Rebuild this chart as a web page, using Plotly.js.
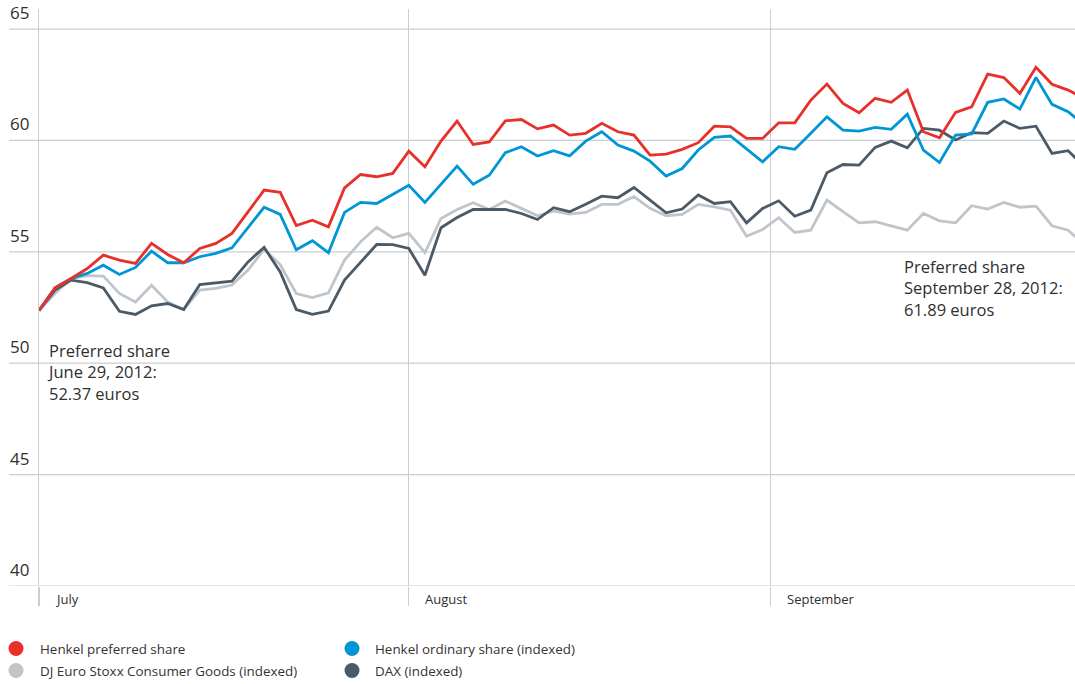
<!DOCTYPE html>
<html>
<head>
<meta charset="utf-8">
<script src="https://cdn.plot.ly/plotly-3.0.1.min.js"></script>
<style>
  html, body { margin: 0; padding: 0; background: #fff; }
  #chart { width: 1075px; height: 684px; }
</style>
</head>
<body>
<div id="chart"></div>
<script>
// ---- Data (trading days, 29 June 2012 – 28 September 2012) ----
const seriesNames = [
  "Henkel preferred share",
  "Henkel ordinary share (indexed)",
  "DJ Euro Stoxx Consumer Goods (indexed)",
  "DAX (indexed)"
];

const henkelPreferred = [
  52.37, 53.38, 53.80, 54.25, 54.85, 54.63, 54.48, 55.38, 54.88, 54.51,
  55.15, 55.38, 55.83, 56.80, 57.77, 57.67, 56.18, 56.42, 56.12, 57.87,
  58.47, 58.37, 58.52, 59.52, 58.82, 59.97, 60.87, 59.82, 59.93, 60.88,
  60.94, 60.52, 60.69, 60.24, 60.32, 60.77, 60.39, 60.24, 59.34, 59.39,
  59.60, 59.90, 60.64, 60.61, 60.09, 60.09, 60.79, 60.79, 61.81, 62.53,
  61.66, 61.24, 61.89, 61.71, 62.26, 60.39, 60.12, 61.26, 61.51, 62.98,
  62.82, 62.11, 63.28, 62.52, 62.26, 61.89
];

const henkelOrdinary = [
  52.37, 53.38, 53.80, 54.03, 54.40, 53.98, 54.30, 55.03, 54.51, 54.51,
  54.78, 54.93, 55.18, 56.10, 57.00, 56.68, 55.09, 55.50, 54.96, 56.77,
  57.22, 57.17, 57.58, 57.99, 57.22, 58.04, 58.85, 58.03, 58.44, 59.45,
  59.72, 59.30, 59.54, 59.31, 59.97, 60.39, 59.79, 59.52, 59.07, 58.40,
  58.74, 59.57, 60.14, 60.20, 59.60, 59.04, 59.72, 59.60, 60.32, 61.06,
  60.46, 60.42, 60.59, 60.50, 61.18, 59.57, 59.01, 60.24, 60.29, 61.71,
  61.86, 61.41, 62.83, 61.62, 61.29, 60.69
];

const djEuroStoxx = [
  52.37, 53.13, 53.80, 53.93, 53.91, 53.13, 52.75, 53.50, 52.75, 52.41,
  53.28, 53.36, 53.51, 54.18, 55.11, 54.43, 53.13, 52.95, 53.16, 54.63,
  55.45, 56.10, 55.63, 55.83, 54.96, 56.50, 56.90, 57.20, 56.90, 57.28,
  56.95, 56.62, 56.84, 56.69, 56.77, 57.13, 57.13, 57.48, 56.95, 56.62,
  56.68, 57.13, 57.02, 56.87, 55.70, 56.00, 56.53, 55.87, 55.97, 57.32,
  56.80, 56.30, 56.35, 56.15, 55.97, 56.72, 56.39, 56.30, 57.07, 56.92,
  57.22, 57.00, 57.05, 56.17, 55.97, 55.32
];

const dax = [
  52.37, 53.28, 53.73, 53.62, 53.38, 52.33, 52.19, 52.58, 52.68, 52.41,
  53.53, 53.61, 53.68, 54.55, 55.20, 54.10, 52.41, 52.19, 52.34, 53.73,
  54.55, 55.33, 55.32, 55.15, 53.95, 56.08, 56.54, 56.90, 56.90, 56.90,
  56.72, 56.45, 56.98, 56.80, 57.14, 57.50, 57.43, 57.89, 57.32, 56.75,
  56.92, 57.55, 57.17, 57.25, 56.30, 56.95, 57.29, 56.60, 56.87, 58.55,
  58.92, 58.89, 59.69, 59.97, 59.67, 60.54, 60.46, 60.02, 60.35, 60.32,
  60.87, 60.54, 60.64, 59.42, 59.54, 58.82
];

// month boundaries on the trading-day index and their labels
const monthPositions = [0, 23, 45.5];
const monthLabels = ["July", "August", "September"];

const yTicks = [40, 45, 50, 55, 60, 65];

const notes = [
  { text: "Preferred share<br>June 29, 2012:<br>52.37 euros" },
  { text: "Preferred share<br>September 28, 2012:<br>61.89 euros" }
];

// ---- Styling ----
const colors = ["#e8302a", "#0096d6", "#bfc5cb", "#4b5a66"];
const gridColor = "#c9ced3";
const textColor = "#2f2f2f";
const FONT = "Open Sans, Noto Sans, sans-serif";

// plot area in pixels
const W = 1075, H = 684;
const L = 39, R = 0, T = 9, B = 98;
const PW = W - L - R, PH = H - T - B;
const px = v => (v - L) / PW;           // pixel x -> paper x
const py = v => (H - B - v) / PH;       // pixel y -> paper y

const idx = henkelPreferred.map((_, i) => i);
const seriesValues = [henkelPreferred, henkelOrdinary, djEuroStoxx, dax];
const drawOrder = [2, 3, 1, 0];

const traces = drawOrder.map(k => ({
  type: "scatter",
  mode: "lines",
  x: idx,
  y: seriesValues[k],
  name: seriesNames[k],
  line: { color: colors[k], width: 2.8, shape: "linear" },
  showlegend: false,
  hoverinfo: "skip"
}));

const shapes = [];
const annotations = [];

// horizontal grid lines extending left of the axis
yTicks.forEach(v => {
  shapes.push({
    type: "line", xref: "paper", yref: "y",
    x0: px(9), x1: 1, y0: v, y1: v,
    line: { color: gridColor, width: 1.2 }, layer: "below"
  });
  annotations.push({
    xref: "paper", yref: "y", x: px(8), y: v,
    xanchor: "left", yanchor: "bottom", yshift: 3,
    text: String(v), showarrow: false,
    font: { family: FONT, size: 17, color: textColor }
  });
});

// month labels
monthPositions.forEach((m, i) => {
  annotations.push({
    xref: "x", yref: "paper", x: m, y: py(599),
    xanchor: "left", yanchor: "middle", xshift: 14,
    text: monthLabels[i], showarrow: false,
    font: { family: FONT, size: 13, color: textColor }
  });
});

// notes
annotations.push({
  xref: "paper", yref: "paper", x: px(45), y: py(337),
  xanchor: "left", yanchor: "top", align: "left",
  text: notes[0].text, showarrow: false,
  font: { family: FONT, size: 16.5, color: textColor }
});
annotations.push({
  xref: "paper", yref: "paper", x: px(902), y: py(253),
  xanchor: "left", yanchor: "top", align: "left",
  text: notes[1].text, showarrow: false,
  font: { family: FONT, size: 16.5, color: textColor }
});

// legend (manual, two columns)
const legendSlots = [
  { k: 0, cx: 16, cy: 648.5, tx: 38 },
  { k: 1, cx: 352, cy: 648.5, tx: 373 },
  { k: 2, cx: 16, cy: 670.5, tx: 38 },
  { k: 3, cx: 352, cy: 670.5, tx: 373 }
];
legendSlots.forEach(s => {
  shapes.push({
    type: "circle", xref: "paper", yref: "paper",
    xsizemode: "pixel", ysizemode: "pixel",
    xanchor: px(s.cx), yanchor: py(s.cy),
    x0: -7.5, x1: 7.5, y0: -7.5, y1: 7.5,
    fillcolor: colors[s.k], line: { width: 0 }
  });
  annotations.push({
    xref: "paper", yref: "paper", x: px(s.tx), y: py(s.cy),
    xanchor: "left", yanchor: "middle",
    text: seriesNames[s.k], showarrow: false,
    font: { family: FONT, size: 13.4, color: "#333333" }
  });
});

const layout = {
  width: W, height: H,
  margin: { l: L, r: R, t: T, b: B, pad: 0 },
  paper_bgcolor: "#ffffff",
  plot_bgcolor: "#ffffff",
  showlegend: false,
  xaxis: {
    range: [0, (W - L - R) / 16.08],
    tickmode: "array",
    tickvals: monthPositions,
    ticktext: monthPositions.map(() => ""),
    showgrid: true, gridcolor: gridColor, gridwidth: 1.2,
    ticks: "outside", ticklen: 19, tickcolor: gridColor, tickwidth: 1.2,
    showline: false, zeroline: false, fixedrange: true
  },
  yaxis: {
    range: [40, 65.9],
    showgrid: false, zeroline: false,
    showticklabels: false, ticks: "",
    showline: true, linecolor: gridColor, linewidth: 1.2,
    fixedrange: true
  },
  shapes: shapes,
  annotations: annotations,
  font: { family: FONT, color: textColor }
};

Plotly.newPlot("chart", traces, layout, { displayModeBar: false, staticPlot: true });
</script>
</body>
</html>
